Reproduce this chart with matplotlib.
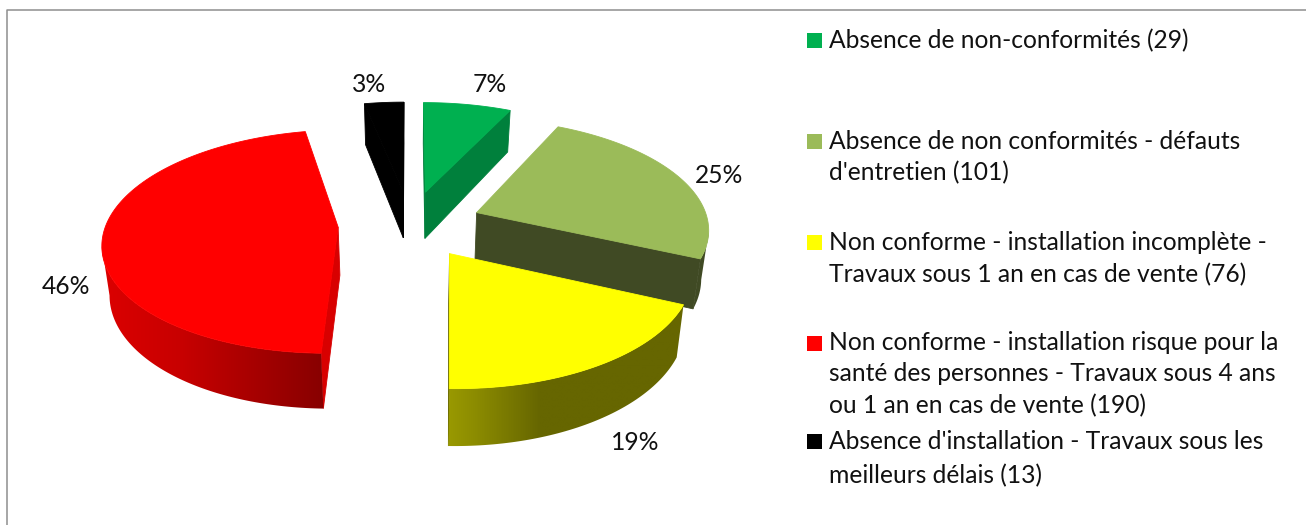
import numpy as np
import matplotlib
matplotlib.use("Agg")
import matplotlib.pyplot as plt
from matplotlib.patches import Rectangle, Polygon

plt.rcParams['font.family'] = ['Lato', 'DejaVu Sans']

# ---- data ----
categories = [
    "Absence de non-conformités (29)",
    "Absence de non conformités - défauts\nd'entretien (101)",
    "Non conforme - installation incomplète -\nTravaux sous 1 an en cas de vente (76)",
    "Non conforme - installation risque pour la\nsanté des personnes - Travaux sous 4 ans\nou 1 an en cas de vente (190)",
    "Absence d'installation - Travaux sous les\nmeilleurs délais (13)",
]
counts = [29, 101, 76, 190, 13]
pct_labels = ["7%", "25%", "19%", "46%", "3%"]

# ---- style ----
top_colors = ["#00B050", "#9BBB59", "#FFFF00", "#FF0000", "#000000"]
cut_colors = ["#00803C", "#404A24", "#6E6E00", "#D80000", "#000000"]
wall_stops = [
    ([0, 1306], ["#00803C", "#00803C"]),
    ([0, 1306], ["#404A24", "#404A24"]),
    ([449, 475, 540, 700], ["#999900", "#8C8C00", "#666600", "#666600"]),
    ([100, 180, 322], ["#DC0000", "#C80000", "#880000"]),
    ([0, 1306], ["#000000", "#000000"]),
]
label_xy = [(490, 92), (719, 183), (635, 450), (66, 294), (369, 92)]
legend_square_y = [40, 141, 242, 343, 441]
legend_baselines = [[48], [149, 180], [250, 282], [350, 381, 413], [449, 483]]
FS = 17.7
CX, CY, A, B, K, EXPLODE, H, SHRINK = 410, 224, 232, 109, 0.13, 0.31, 48, 0.975
W, Hgt = 1306, 525


def project(px, py, down=0.0):
    d = 1 + K * py
    x = A * px / d
    y = -B * py / d + down * H / d
    if down:
        x = x * SHRINK
    return CX + x, CY + y


fig = plt.figure(figsize=(W / 100, Hgt / 100), dpi=100)
ax = fig.add_axes([0, 0, 1, 1])

# frame
ax.plot([6.5, 6.5, W], [Hgt, 9.5, 9.5], color="#8E8E8E", lw=1.1, zorder=1)

fracs = np.array(counts) / sum(counts)
edges = np.concatenate([[0], np.cumsum(fracs)]) * 2 * np.pi
order = [0, 4, 1, 3, 2]
zo = 2


def face(xs, ys, color):
    global zo
    ax.fill(xs, ys, facecolor=color, edgecolor=color, lw=0.6, zorder=zo)
    zo += 1


def gradient_wall(xs, ys, stops_x, stops_c):
    """Curved wall: horizontal gradient clipped to the wall outline."""
    global zo
    x0, x1 = min(xs) - 2, max(xs) + 2
    ramp = np.linspace(x0, x1, 256)
    rgb = np.array([matplotlib.colors.to_rgb(c) for c in stops_c])
    img = np.stack([np.interp(ramp, stops_x, rgb[:, c]) for c in range(3)], axis=-1)[None, :, :]
    im = ax.imshow(img, extent=(x0, x1, max(ys) + 2, min(ys) - 2), aspect="auto",
                   interpolation="bilinear", zorder=zo)
    outline = Polygon(np.c_[xs, ys], closed=True, transform=ax.transData,
                      facecolor="none", edgecolor="none")
    ax.add_patch(outline)
    im.set_clip_path(outline)
    zo += 1


for i in order:
    a0, a1 = edges[i], edges[i + 1]
    am = (a0 + a1) / 2
    ox, oy = EXPLODE * np.sin(am), EXPLODE * np.cos(am)
    th = np.linspace(a0, a1, max(12, int((a1 - a0) * 60)))
    rx, ry = ox + np.sin(th), oy + np.cos(th)

    tx, ty = project(rx, ry)
    bx, by = project(rx, ry, 1)
    ax0, ay0 = project(np.array([ox]), np.array([oy]))
    bx0, by0 = project(np.array([ox]), np.array([oy]), 1)

    # cut faces (start and end radii), only those turned to the viewer
    for j in (0, -1):
        xs = [ax0[0], tx[j], bx[j], bx0[0]]
        ys = [ay0[0], ty[j], by[j], by0[0]]
        area = 0.5 * sum(xs[n] * ys[(n + 1) % 4] - xs[(n + 1) % 4] * ys[n] for n in range(4))
        if (j == 0 and area < 0) or (j == -1 and area > 0):
            face(xs, ys, cut_colors[i])

    # outer wall: the part of the rim that runs leftwards faces the viewer
    vis = np.where(np.diff(tx) < 0)[0]
    if len(vis):
        s, e = vis[0], vis[-1] + 2
        xs = np.r_[tx[s:e], bx[s:e][::-1]]
        ys = np.r_[ty[s:e], by[s:e][::-1]]
        gradient_wall(xs, ys, *wall_stops[i])

    # top face
    face(np.r_[ax0, tx], np.r_[ay0, ty], top_colors[i])

# value labels
for s, (x, y) in zip(pct_labels, label_xy):
    ax.text(x, y, s, ha="center", va="baseline", fontsize=FS, color="#111111", zorder=50)

# legend
for cat, ys, sy, col in zip(categories, legend_baselines, legend_square_y, top_colors):
    ax.add_patch(Rectangle((807, sy - 7.5), 15, 15, facecolor=col, edgecolor="none", zorder=50))
    for line, y in zip(cat.split("\n"), ys):
        ax.text(829, y, line, ha="left", va="baseline", fontsize=FS, color="#111111", zorder=50)

ax.set_xlim(0, W)
ax.set_ylim(Hgt, 0)
ax.axis("off")
fig.savefig("out.png", dpi=100, facecolor="white")
